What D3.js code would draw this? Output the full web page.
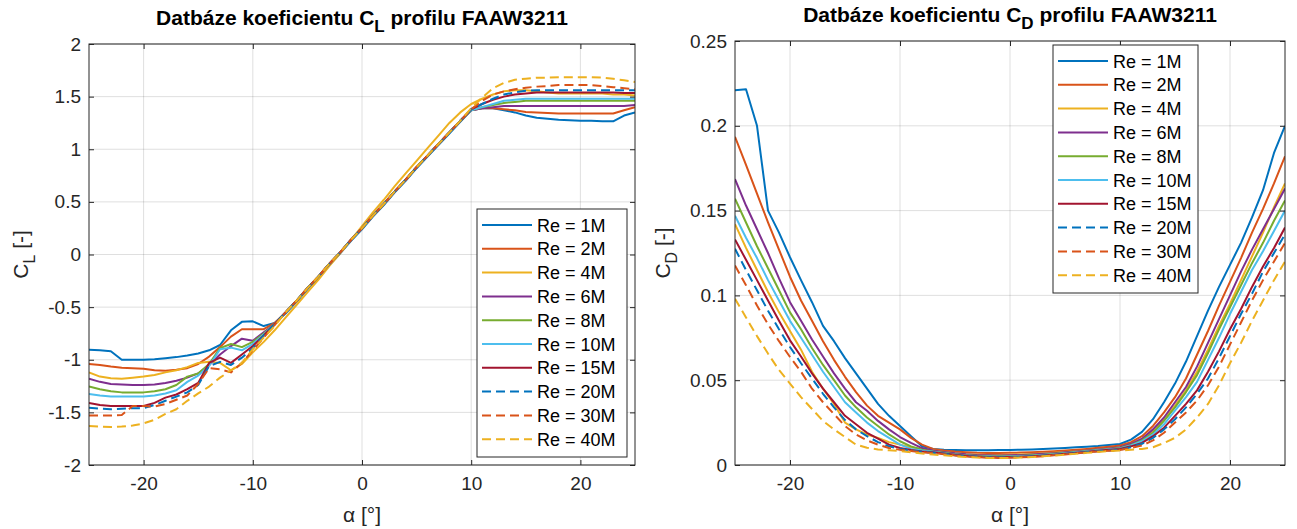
<!DOCTYPE html>
<html>
<head>
<meta charset="utf-8">
<script src="https://cdn.jsdelivr.net/npm/d3@7"></script>
<style>
  html, body { margin: 0; padding: 0; background: #ffffff; }
  svg { display: block; font-family: "Liberation Sans", Arial, Helvetica, sans-serif; }
</style>
</head>
<body>
<svg id="fig" width="1297" height="529"></svg>
<script>
// Angle of attack [deg]
const alpha = [-25,-24,-23,-22,-21,-20,-19,-18,-17,-16,-15,-14,-13,-12,-11,-10,-9,-8,-7,-6,-5,-4,-3,-2,-1,0,1,2,3,4,5,6,7,8,9,10,11,12,13,14,15,16,17,18,19,20,21,22,23,24,25];

const reNames = ["Re = 1M","Re = 2M","Re = 4M","Re = 6M","Re = 8M","Re = 10M","Re = 15M","Re = 20M","Re = 30M","Re = 40M"];
const reColors = ["#0072BD","#D95319","#EDB120","#7E2F8E","#77AC30","#4DBEEE","#A2142F","#0072BD","#D95319","#EDB120"];
const reDashed = [false,false,false,false,false,false,false,true,true,true];

// Lift coefficient C_L per Reynolds number
const clRe1M  = [-0.905,-0.91,-0.92,-1.0,-1.0,-1.0,-0.995,-0.985,-0.975,-0.96,-0.94,-0.91,-0.86,-0.72,-0.64,-0.635,-0.68,-0.65,
  -0.56,-0.45,-0.33,-0.22,-0.10,0.01,0.13,0.24,0.36,0.47,0.59,0.70,0.82,0.93,1.04,1.15,1.26,
  1.37,1.39,1.39,1.37,1.35,1.32,1.30,1.29,1.28,1.275,1.27,1.27,1.265,1.265,1.32,1.35];
const clRe2M  = [-1.04,-1.05,-1.065,-1.075,-1.08,-1.085,-1.10,-1.105,-1.095,-1.08,-1.04,-0.97,-0.88,-0.78,-0.71,-0.71,-0.71,-0.65,
  -0.55,-0.44,-0.32,-0.21,-0.09,0.02,0.14,0.25,0.37,0.48,0.60,0.71,0.83,0.94,1.05,1.16,1.27,
  1.37,1.39,1.39,1.38,1.37,1.355,1.35,1.345,1.34,1.34,1.34,1.34,1.34,1.34,1.37,1.40];
const clRe4M  = [-1.12,-1.16,-1.175,-1.18,-1.17,-1.16,-1.145,-1.12,-1.10,-1.07,-1.03,-1.02,-1.03,-1.10,-1.04,-0.93,-0.83,-0.72,
  -0.60,-0.48,-0.36,-0.24,-0.11,0.01,0.14,0.27,0.40,0.52,0.65,0.77,0.89,1.01,1.13,1.25,1.35,
  1.43,1.48,1.52,1.55,1.56,1.56,1.55,1.54,1.53,1.53,1.53,1.53,1.53,1.52,1.52,1.51];
const clRe6M  = [-1.18,-1.21,-1.23,-1.235,-1.24,-1.24,-1.235,-1.22,-1.20,-1.17,-1.13,-1.05,-0.95,-0.87,-0.80,-0.82,-0.74,-0.66,
  -0.55,-0.44,-0.32,-0.21,-0.09,0.02,0.14,0.25,0.37,0.48,0.60,0.71,0.83,0.94,1.05,1.16,1.27,
  1.37,1.39,1.40,1.41,1.41,1.41,1.41,1.41,1.41,1.41,1.41,1.41,1.41,1.41,1.41,1.42];
const clRe8M  = [-1.255,-1.28,-1.30,-1.31,-1.31,-1.31,-1.30,-1.28,-1.24,-1.16,-1.13,-1.04,-0.89,-0.85,-0.88,-0.83,-0.75,-0.66,
  -0.55,-0.44,-0.32,-0.21,-0.09,0.02,0.14,0.25,0.37,0.48,0.60,0.71,0.83,0.94,1.05,1.16,1.27,
  1.37,1.40,1.42,1.44,1.45,1.46,1.46,1.46,1.46,1.46,1.46,1.46,1.46,1.46,1.46,1.46];
const clRe10M = [-1.325,-1.34,-1.35,-1.35,-1.35,-1.35,-1.34,-1.32,-1.29,-1.21,-1.15,-1.06,-0.90,-0.885,-0.91,-0.85,-0.76,-0.66,
  -0.55,-0.44,-0.32,-0.21,-0.09,0.02,0.14,0.25,0.37,0.48,0.60,0.71,0.83,0.94,1.05,1.16,1.27,
  1.37,1.40,1.43,1.46,1.47,1.48,1.48,1.48,1.48,1.48,1.48,1.48,1.48,1.48,1.48,1.48];
const clRe15M = [-1.41,-1.43,-1.44,-1.44,-1.44,-1.44,-1.41,-1.36,-1.33,-1.28,-1.22,-1.03,-0.98,-1.03,-0.95,-0.87,-0.77,-0.66,
  -0.55,-0.44,-0.32,-0.21,-0.09,0.02,0.14,0.25,0.37,0.48,0.60,0.71,0.83,0.94,1.05,1.16,1.27,
  1.38,1.43,1.47,1.50,1.52,1.53,1.54,1.54,1.54,1.54,1.54,1.54,1.54,1.54,1.535,1.535];
const clRe20M = [-1.455,-1.465,-1.47,-1.465,-1.46,-1.46,-1.43,-1.39,-1.35,-1.31,-1.24,-1.06,-1.02,-1.05,-0.98,-0.89,-0.77,-0.66,
  -0.55,-0.44,-0.32,-0.21,-0.09,0.02,0.14,0.25,0.37,0.48,0.60,0.71,0.83,0.94,1.05,1.16,1.27,
  1.38,1.43,1.48,1.52,1.54,1.555,1.56,1.56,1.56,1.56,1.56,1.56,1.56,1.56,1.56,1.56];
const clRe30M = [-1.53,-1.53,-1.53,-1.525,-1.44,-1.44,-1.445,-1.42,-1.38,-1.34,-1.23,-1.08,-1.09,-1.12,-1.03,-0.91,-0.79,-0.67,
  -0.55,-0.44,-0.32,-0.21,-0.09,0.02,0.14,0.25,0.37,0.48,0.60,0.71,0.83,0.94,1.05,1.16,1.27,
  1.38,1.46,1.52,1.55,1.57,1.585,1.595,1.60,1.61,1.61,1.61,1.61,1.60,1.59,1.58,1.57];
const clRe40M = [-1.63,-1.635,-1.64,-1.635,-1.625,-1.605,-1.57,-1.515,-1.47,-1.39,-1.32,-1.255,-1.17,-1.10,-1.03,-0.90,-0.79,-0.68,
  -0.55,-0.44,-0.32,-0.21,-0.09,0.02,0.14,0.25,0.37,0.48,0.60,0.71,0.83,0.94,1.05,1.16,1.27,
  1.39,1.49,1.58,1.63,1.66,1.67,1.68,1.68,1.685,1.685,1.685,1.685,1.68,1.67,1.655,1.64];

// Drag coefficient C_D per Reynolds number
const cdRe1M  = [0.221,0.2216,0.200,0.150,0.137,0.1225,0.109,0.096,0.082,0.073,0.063,0.054,0.045,0.036,0.029,0.023,0.017,0.011,
  0.0095,0.0090,0.0088,0.0087,0.0087,0.0087,0.0088,0.0089,0.0090,0.0092,0.0094,0.0097,0.0100,0.0104,0.0108,0.0112,0.0118,
  0.0124,0.0150,0.0195,0.027,0.037,0.048,0.061,0.076,0.091,0.105,0.118,0.131,0.146,0.162,0.184,0.200];
const cdRe2M  = [0.1935,0.177,0.160,0.143,0.127,0.111,0.097,0.085,0.073,0.062,0.052,0.043,0.035,0.029,0.025,0.021,0.016,0.012,
  0.0095,0.0085,0.0079,0.0075,0.0072,0.0071,0.0071,0.0072,0.0073,0.0075,0.0078,0.0081,0.0085,0.0090,0.0095,0.0101,0.0108,
  0.0115,0.0135,0.017,0.023,0.031,0.040,0.051,0.065,0.079,0.094,0.108,0.122,0.137,0.151,0.166,0.182];
const cdRe4M  = [0.142,0.128,0.115,0.102,0.090,0.079,0.068,0.055,0.045,0.036,0.025,0.021,0.018,0.016,0.0135,0.012,0.0105,0.0095,
  0.0085,0.0076,0.0069,0.0064,0.0061,0.0059,0.0059,0.0060,0.0062,0.0065,0.0068,0.0072,0.0076,0.0080,0.0085,0.0090,0.0095,
  0.0100,0.012,0.015,0.020,0.027,0.035,0.044,0.055,0.068,0.082,0.095,0.109,0.123,0.137,0.152,0.166];
const cdRe6M  = [0.1686,0.153,0.139,0.125,0.110,0.096,0.085,0.074,0.064,0.054,0.045,0.037,0.032,0.026,0.021,0.0165,0.013,0.010,
  0.0085,0.0077,0.0069,0.0063,0.0059,0.0057,0.0056,0.0057,0.0059,0.0062,0.0066,0.0070,0.0075,0.0080,0.0086,0.0092,0.0098,
  0.0105,0.0125,0.0155,0.021,0.028,0.037,0.046,0.058,0.072,0.086,0.100,0.114,0.127,0.139,0.151,0.163];
const cdRe8M  = [0.157,0.143,0.129,0.116,0.103,0.090,0.080,0.069,0.059,0.050,0.041,0.034,0.028,0.023,0.018,0.014,0.011,0.009,
  0.0080,0.0072,0.0064,0.0058,0.0054,0.0052,0.0051,0.0052,0.0054,0.0057,0.0061,0.0066,0.0071,0.0077,0.0083,0.0089,0.0095,
  0.0100,0.0118,0.0145,0.019,0.026,0.034,0.043,0.053,0.066,0.080,0.093,0.106,0.119,0.131,0.144,0.156];
const cdRe10M = [0.147,0.134,0.122,0.109,0.097,0.085,0.075,0.065,0.055,0.046,0.037,0.031,0.025,0.020,0.016,0.012,0.0095,0.0085,
  0.0078,0.0070,0.0062,0.0056,0.0052,0.0050,0.0049,0.0050,0.0052,0.0055,0.0059,0.0064,0.0069,0.0075,0.0081,0.0087,0.0093,
  0.0098,0.0115,0.014,0.018,0.024,0.032,0.040,0.049,0.062,0.075,0.089,0.102,0.115,0.126,0.138,0.150];
const cdRe15M = [0.133,0.121,0.109,0.097,0.085,0.0735,0.064,0.054,0.045,0.037,0.029,0.024,0.019,0.0155,0.012,0.010,0.0088,0.008,
  0.0075,0.0068,0.0060,0.0054,0.0050,0.0047,0.0046,0.0047,0.0049,0.0052,0.0056,0.0061,0.0066,0.0072,0.0078,0.0084,0.0090,
  0.0095,0.011,0.013,0.017,0.022,0.029,0.036,0.044,0.055,0.067,0.080,0.092,0.105,0.117,0.128,0.140];
const cdRe20M = [0.1275,0.115,0.103,0.091,0.080,0.0696,0.060,0.051,0.042,0.034,0.0265,0.021,0.017,0.0135,0.011,0.0095,0.0085,0.0078,
  0.0072,0.0066,0.0058,0.0052,0.0048,0.0045,0.0044,0.0045,0.0047,0.0050,0.0054,0.0059,0.0064,0.0070,0.0076,0.0082,0.0086,
  0.0090,0.0105,0.0125,0.016,0.021,0.027,0.034,0.042,0.051,0.063,0.076,0.089,0.101,0.114,0.125,0.136];
const cdRe30M = [0.1176,0.106,0.094,0.083,0.073,0.0637,0.055,0.045,0.037,0.030,0.023,0.018,0.0145,0.012,0.010,0.009,0.0082,0.0075,
  0.0070,0.0064,0.0056,0.0050,0.0046,0.0043,0.0042,0.0043,0.0045,0.0048,0.0052,0.0057,0.0062,0.0068,0.0074,0.0079,0.0084,
  0.0088,0.010,0.0115,0.0145,0.019,0.025,0.031,0.038,0.047,0.058,0.071,0.084,0.097,0.109,0.120,0.131];
const cdRe40M = [0.098,0.087,0.076,0.0657,0.056,0.048,0.040,0.033,0.026,0.021,0.0165,0.012,0.0102,0.0092,0.0087,0.0082,0.0075,0.0068,
  0.0062,0.0057,0.0051,0.0047,0.0044,0.0042,0.0041,0.0042,0.0044,0.0047,0.0051,0.0056,0.0061,0.0066,0.0072,0.0077,0.0082,
  0.0085,0.009,0.0095,0.0105,0.013,0.016,0.021,0.028,0.036,0.047,0.060,0.072,0.085,0.097,0.109,0.120];

const xTicks = [-20,-10,0,10,20];
const clTicks = [-2,-1.5,-1,-0.5,0,0.5,1,1.5,2];
const cdTicks = [0,0.05,0.1,0.15,0.2,0.25];

const clSeries = [clRe1M,clRe2M,clRe4M,clRe6M,clRe8M,clRe10M,clRe15M,clRe20M,clRe30M,clRe40M];
const cdSeries = [cdRe1M,cdRe2M,cdRe4M,cdRe6M,cdRe8M,cdRe10M,cdRe15M,cdRe20M,cdRe30M,cdRe40M];

const svg = d3.select("#fig");
svg.append("rect").attr("width", 1297).attr("height", 529).attr("fill", "#ffffff");

const axisColor = "#262626";
const tickLen = 5;

function drawPanel(cfg) {
  const { left, right, top, bottom, yDomain, yTicks, series, sub, legendBox, id } = cfg;
  const x = d3.scaleLinear().domain([-25, 25]).range([left, right]);
  const y = d3.scaleLinear().domain(yDomain).range([bottom, top]);
  const g = svg.append("g");

  // grid
  g.append("g").selectAll("line").data(xTicks).join("line")
    .attr("x1", d => x(d)).attr("x2", d => x(d)).attr("y1", top).attr("y2", bottom)
    .attr("stroke", axisColor).attr("stroke-opacity", 0.15).attr("stroke-width", 1);
  g.append("g").selectAll("line").data(yTicks).join("line")
    .attr("x1", left).attr("x2", right).attr("y1", d => y(d)).attr("y2", d => y(d))
    .attr("stroke", axisColor).attr("stroke-opacity", 0.15).attr("stroke-width", 1);

  // data lines
  const clipId = "clip-" + id;
  svg.append("defs").append("clipPath").attr("id", clipId)
    .append("rect").attr("x", left).attr("y", top).attr("width", right - left).attr("height", bottom - top);
  const line = d3.line().x((d, i) => x(alpha[i])).y(d => y(d));
  g.append("g").attr("clip-path", `url(#${clipId})`)
    .selectAll("path").data(series).join("path")
    .attr("d", d => line(d))
    .attr("fill", "none")
    .attr("stroke", (d, i) => reColors[i])
    .attr("stroke-width", 2)
    .attr("stroke-linejoin", "round")
    .attr("stroke-dasharray", (d, i) => reDashed[i] ? "9,5" : null);

  // axes with inward ticks on all sides
  const fmt = d => String(d);
  const bottomAxis = d3.axisBottom(x).tickValues(xTicks).tickSizeInner(-tickLen).tickSizeOuter(0).tickPadding(12).tickFormat(fmt);
  const topAxis = d3.axisTop(x).tickValues(xTicks).tickSizeInner(-tickLen).tickSizeOuter(0).tickFormat("");
  const leftAxis = d3.axisLeft(y).tickValues(yTicks).tickSizeInner(-tickLen).tickSizeOuter(0).tickPadding(8).tickFormat(fmt);
  const rightAxis = d3.axisRight(y).tickValues(yTicks).tickSizeInner(-tickLen).tickSizeOuter(0).tickFormat("");

  const styleAxis = sel => {
    sel.select(".domain").remove();
    sel.selectAll("line").attr("stroke", axisColor);
    sel.selectAll("text").attr("fill", axisColor).style("font-size", "19px")
      .style("font-family", '"Liberation Sans", Arial, sans-serif');
  };
  g.append("g").attr("transform", `translate(0,${bottom})`).call(bottomAxis).call(styleAxis);
  g.append("g").attr("transform", `translate(0,${top})`).call(topAxis).call(styleAxis);
  g.append("g").attr("transform", `translate(${left},0)`).call(leftAxis).call(styleAxis);
  g.append("g").attr("transform", `translate(${right},0)`).call(rightAxis).call(styleAxis);

  g.append("rect").attr("x", left).attr("y", top).attr("width", right - left).attr("height", bottom - top)
    .attr("fill", "none").attr("stroke", axisColor).attr("stroke-width", 1);

  // title
  const cx = (left + right) / 2;
  const title = g.append("text").attr("x", cx).attr("y", cfg.titleY).attr("text-anchor", "middle")
    .attr("fill", "#000").style("font-weight", "bold").style("font-size", "21px");
  title.append("tspan").text("Datbáze koeficientu C");
  title.append("tspan").attr("dy", 7).style("font-size", "17px").text(sub);
  title.append("tspan").attr("dy", -7).text(" profilu FAAW3211");

  // x label
  g.append("text").attr("x", cx).attr("y", 522).attr("text-anchor", "middle")
    .attr("fill", axisColor).style("font-size", "21px").text("α [°]");

  // y label
  const yl = g.append("text").attr("transform", `translate(${cfg.yLabelX},${(top + bottom) / 2}) rotate(-90)`)
    .attr("text-anchor", "middle").attr("fill", axisColor).style("font-size", "21px");
  yl.append("tspan").text("C");
  yl.append("tspan").attr("dy", 7).style("font-size", "16px").text(sub);
  yl.append("tspan").attr("dy", -7).text(" [-]");

  // legend
  const lg = g.append("g");
  const rowH = 23.8;
  lg.append("rect").attr("x", legendBox.x).attr("y", legendBox.y)
    .attr("width", legendBox.w).attr("height", rowH * reNames.length + 10)
    .attr("fill", "#ffffff").attr("stroke", axisColor).attr("stroke-width", 1);
  const rows = lg.selectAll("g.row").data(reNames).join("g").attr("class", "row")
    .attr("transform", (d, i) => `translate(${legendBox.x},${legendBox.y + 16 + i * rowH})`);
  rows.append("line").attr("x1", 5).attr("x2", 55).attr("y1", 0).attr("y2", 0)
    .attr("stroke", (d, i) => reColors[i]).attr("stroke-width", 2)
    .attr("stroke-dasharray", (d, i) => reDashed[i] ? "9,5" : null);
  rows.append("text").attr("x", 60).attr("y", 6.5).attr("fill", "#000")
    .style("font-size", "18px").text(d => d);
}

drawPanel({
  id: "cl", left: 89, right: 635, top: 44, bottom: 465,
  yDomain: [-2, 2], yTicks: clTicks, series: clSeries, sub: "L",
  titleY: 25, yLabelX: 28,
  legendBox: { x: 477, y: 209, w: 150 }
});
drawPanel({
  id: "cd", left: 735, right: 1285, top: 41, bottom: 465,
  yDomain: [0, 0.25], yTicks: cdTicks, series: cdSeries, sub: "D",
  titleY: 22, yLabelX: 670,
  legendBox: { x: 1053, y: 45, w: 145 }
});
</script>
</body>
</html>
